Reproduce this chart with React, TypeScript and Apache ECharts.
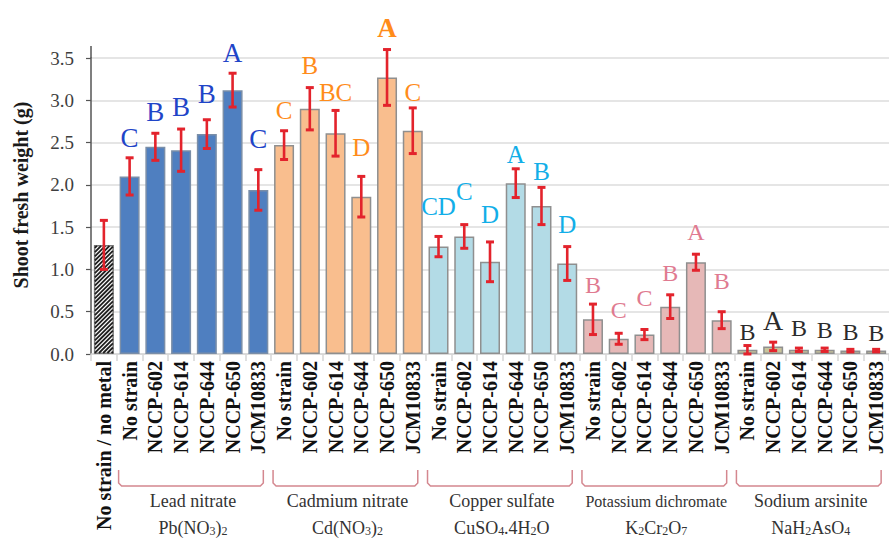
import React, { useEffect, useRef } from 'react';
import * as echarts from 'echarts';

// ---------- data ----------
const strains = ['No strain', 'NCCP-602', 'NCCP-614', 'NCCP-644', 'NCCP-650', 'JCM10833'];
const controlLabel = 'No strain / no metal';
const metalNames = ['Lead nitrate', 'Cadmium nitrate', 'Copper sulfate', 'Potassium dichromate', 'Sodium arsinite'];
const metalFormulas = ['Pb(NO{s|3}){s|2}', 'Cd(NO{s|3}){s|2}', 'CuSO{s|4}.4H{s|2}O', 'K{s|2}Cr{s|2}O{s|7}', 'NaH{s|2}AsO{s|4}'];

const controlMean = 1.29;
const controlErr = 0.29;

const leadMeans = [2.1, 2.45, 2.41, 2.6, 3.12, 1.94];
const leadErrs = [0.22, 0.16, 0.25, 0.17, 0.2, 0.24];
const leadLetters = ['C', 'B', 'B', 'B', 'A', 'C'];

const cadmiumMeans = [2.47, 2.9, 2.61, 1.86, 3.27, 2.64];
const cadmiumErrs = [0.17, 0.25, 0.27, 0.24, 0.33, 0.27];
const cadmiumLetters = ['C', 'B', 'BC', 'D', 'A', 'C'];

const copperMeans = [1.27, 1.39, 1.09, 2.02, 1.75, 1.07];
const copperErrs = [0.12, 0.14, 0.235, 0.17, 0.22, 0.2];
const copperLetters = ['CD', 'C', 'D', 'A', 'B', 'D'];

const chromiumMeans = [0.41, 0.18, 0.23, 0.56, 1.085, 0.4];
const chromiumErrs = [0.18, 0.065, 0.06, 0.14, 0.095, 0.1];
const chromiumLetters = ['B', 'C', 'C', 'B', 'A', 'B'];

const arsenicMeans = [0.05, 0.09, 0.05, 0.05, 0.04, 0.04];
const arsenicErrs = [0.05, 0.05, 0.02, 0.02, 0.015, 0.015];
const arsenicLetters = ['B', 'A', 'B', 'B', 'B', 'B'];

const yTicks = [0, 0.5, 1, 1.5, 2, 2.5, 3, 3.5];

// ---------- styles / layout ----------
const barColors = ['#ffffff', '#4f7fc0', '#f9be8e', '#b3dbe6', '#e6b8b7', '#c9c39b'];
const letterColors = ['#000', '#1f45c8', '#ff8c1a', '#12aee8', '#e07a90', '#2b2b2b'];
const letterSizes = [0, 27, 25, 25, 24, 24];
// pixel lift of each letter above its error-bar top (layout only)
const letterLift = [
  0,
  11, 12, 13, 17, 11, 21,
  12, 14, 9, 20, 12, 7,
  21, 25, 19, 6, 7, 14,
  11, 15, 23, 14, 14, 23,
  5, 12, 12, 10, 9, 8,
];
const SERIF = 'Liberation Serif';
const BAR_W = 20;

const GRID_LEFT = 91;
const GRID_TOP = 58;
const GRID_BOTTOM = 187;

export default function App() {
  const ref = useRef<HTMLDivElement>(null);

  useEffect(() => {
    const chart = echarts.init(ref.current!, null, { renderer: 'svg' });

    const categories = [controlLabel, ...strains, ...strains, ...strains, ...strains, ...strains];
    const means = [controlMean, ...leadMeans, ...cadmiumMeans, ...copperMeans, ...chromiumMeans, ...arsenicMeans];
    const errs = [controlErr, ...leadErrs, ...cadmiumErrs, ...copperErrs, ...chromiumErrs, ...arsenicErrs];
    const letters = ['', ...leadLetters, ...cadmiumLetters, ...copperLetters, ...chromiumLetters, ...arsenicLetters];
    const groupOf = categories.map((_, i) => (i === 0 ? 0 : Math.floor((i - 1) / 6) + 1));

    const barData = means.map((v, i) => {
      const g = groupOf[i];
      return {
        value: v,
        itemStyle: {
          color: barColors[g],
          borderColor: g === 1 ? '#7a8ea8' : g === 0 ? '#777' : '#8f8f8f',
          borderWidth: 1.5,
        },
      };
    });

    const option: any = {
      animation: false,
      grid: { left: GRID_LEFT, right: -4, top: GRID_TOP, bottom: GRID_BOTTOM, containLabel: false },
      xAxis: {
        type: 'category',
        data: categories,
        axisLine: { show: true, lineStyle: { color: '#d6d6d6', width: 1.5 } },
        axisTick: { show: true, interval: 0, length: 7, lineStyle: { color: '#d6d6d6', width: 1.5 } },
        axisLabel: {
          interval: 0,
          rotate: 90,
          margin: 7,
          fontFamily: SERIF,
          fontWeight: 'bold',
          fontSize: 20,
          color: '#111',
        },
        splitLine: { show: false },
      },
      yAxis: {
        type: 'value',
        min: 0,
        max: 3.5,
        interval: 0.5,
        axisLine: { show: true, lineStyle: { color: '#555', width: 1.5 } },
        axisTick: { show: true, length: 5, lineStyle: { color: '#555', width: 1.2 } },
        axisLabel: {
          margin: 17,
          fontFamily: SERIF,
          fontSize: 19,
          color: '#3f3f3f',
          formatter: (v: number) => (yTicks.indexOf(v) >= 0 ? v.toFixed(1) : ''),
        },
        splitLine: { show: true, lineStyle: { color: '#dcdcdc', width: 1.5 } },
      },
      series: [
        {
          type: 'bar',
          data: barData,
          barWidth: BAR_W,
          z: 2,
        },
        {
          // hatch pattern for the control bar
          type: 'custom',
          z: 3,
          clip: false,
          data: [[0, controlMean]],
          encode: { x: 0, y: 1 },
          renderItem: (params: any, api: any) => {
            const top = api.coord([api.value(0), api.value(1)]);
            const base = api.coord([api.value(0), 0]);
            const x0 = top[0] - BAR_W / 2 + 1;
            const x1 = top[0] + BAR_W / 2 - 1;
            const yT = top[1] + 1;
            const yB = base[1] - 1;
            const children: any[] = [];
            for (let c = x0 + yT + 2; c < x1 + yB; c += 4.2) {
              const sx = Math.max(x0, c - yB);
              const ex = Math.min(x1, c - yT);
              if (ex <= sx) continue;
              children.push({
                type: 'line',
                shape: { x1: sx, y1: c - sx, x2: ex, y2: c - ex },
                style: { stroke: '#1e1e1e', lineWidth: 1.8 },
              });
            }
            return { type: 'group', children };
          },
        },
        {
          type: 'custom',
          z: 5,
          clip: false,
          data: means.map((m, i) => [i, m, errs[i]]),
          encode: { x: 0, y: 1 },
          renderItem: (params: any, api: any) => {
            const i = api.value(0);
            const m = api.value(1);
            const e = api.value(2);
            const top = api.coord([i, m + e]);
            const bot = api.coord([i, m - e]);
            const x = top[0];
            const w = 4;
            const st = { stroke: '#e3232c', lineWidth: 2.6 };
            return {
              type: 'group',
              children: [
                { type: 'line', shape: { x1: x, y1: top[1], x2: x, y2: bot[1] }, style: st },
                { type: 'line', shape: { x1: x - w, y1: top[1], x2: x + w, y2: top[1] }, style: { ...st, lineWidth: 3 } },
                { type: 'line', shape: { x1: x - w, y1: bot[1], x2: x + w, y2: bot[1] }, style: { ...st, lineWidth: 3 } },
              ],
            };
          },
        },
        {
          type: 'custom',
          z: 6,
          clip: false,
          data: means.map((m, i) => [i, m + errs[i]]),
          encode: { x: 0, y: 1 },
          renderItem: (params: any, api: any) => {
            const i = api.value(0);
            const L = letters[i];
            if (!L) return null;
            const g = groupOf[i];
            const top = api.coord([i, api.value(1)]);
            let fs = letterSizes[g];
            let weight = 'normal';
            if (g === 2 && L === 'A') { weight = 'bold'; fs = 27; }
            if (g === 5 && L === 'A') { fs = 28; }
            const y = top[1] - letterLift[i] + 0.16 * fs;
            return {
              type: 'text',
              x: top[0],
              y,
              style: {
                text: L,
                fill: letterColors[g],
                fontFamily: SERIF,
                fontSize: fs,
                fontWeight: weight,
                textAlign: 'center',
                textVerticalAlign: 'bottom',
              },
            };
          },
        },
      ],
    };

    chart.setOption(option);

    const px = (i: number) => (chart.convertToPixel({ xAxisIndex: 0 }, i) as unknown) as number;
    const graphics: any[] = [];

    // y axis extension above 3.5
    graphics.push({
      type: 'line',
      shape: { x1: GRID_LEFT, y1: 46, x2: GRID_LEFT, y2: GRID_TOP },
      style: { stroke: '#555', lineWidth: 1.5 },
    });

    // y axis name
    graphics.push({
      type: 'text',
      x: 21,
      y: 195,
      rotation: Math.PI / 2,
      style: {
        text: 'Shoot fresh weight (g)',
        fontFamily: SERIF,
        fontSize: 20,
        fontWeight: 'bold',
        fill: '#1a1a1a',
        textAlign: 'center',
        textVerticalAlign: 'middle',
      },
    });

    metalNames.forEach((name, gi) => {
      const first = 1 + gi * 6;
      const last = first + 5;
      const L = px(first) - 11;
      const R = px(last) + 5;
      const yTop = 470;
      const yBot = 486;
      graphics.push({
        type: 'polyline',
        shape: {
          points: [
            [L, yTop], [L, yBot - 3], [L + 3, yBot], [R - 3, yBot], [R, yBot - 3], [R, yTop],
          ],
        },
        style: { stroke: '#d4878f', lineWidth: 1.5, fill: null },
      });
      const cx = (L + R) / 2 + 2;
      const fs = gi === 3 ? 16 : 18;
      graphics.push({
        type: 'text',
        x: cx,
        y: 501,
        style: {
          text: name,
          fontFamily: SERIF,
          fontSize: fs,
          fill: '#333',
          textAlign: 'center',
          textVerticalAlign: 'middle',
        },
      });
      graphics.push({
        type: 'text',
        x: cx,
        y: 528,
        style: {
          text: metalFormulas[gi],
          fontFamily: SERIF,
          fontSize: 18,
          fill: '#333',
          textAlign: 'center',
          textVerticalAlign: 'middle',
          rich: {
            s: { fontSize: 12, fontFamily: SERIF, fill: '#333', verticalAlign: 'bottom', lineHeight: 12 },
          },
        },
      });
    });

    chart.setOption({ graphic: graphics });

    return () => chart.dispose();
  }, []);

  return <div ref={ref} style={{ position: 'absolute', left: 0, top: 0, width: 889, height: 541 }} />;
}
